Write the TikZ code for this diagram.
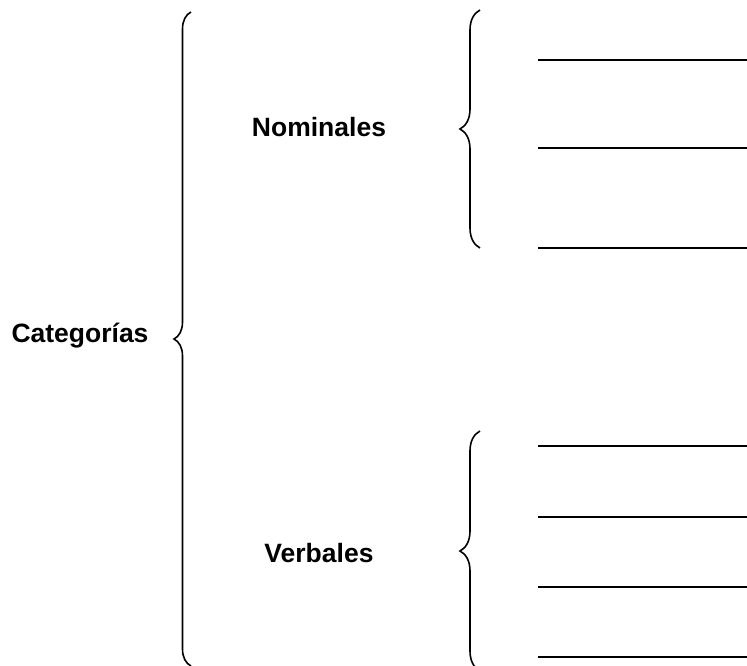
\documentclass[tikz,border=0pt]{standalone}
\usepackage{fontspec}
\setmainfont{Liberation Sans}
\usepackage{tikz}
\usetikzlibrary{decorations.pathreplacing}
\tikzset{lbl/.style={font=\fontsize{26.5}{30}\selectfont\bfseries,inner sep=0pt,anchor=base}}
\tikzset{brc/.style={decorate,decoration={brace,amplitude=#1},line width=1.6pt}}
\tikzset{blank/.style={line width=2pt}}

\begin{document}
\begin{tikzpicture}[x=1pt,y=-1pt]
    \useasboundingbox (0,0) rectangle (747,666);

    \node[lbl] (cat) at (80,342) {Categorías};
    \node[lbl] (nom) at (319,137) {Nominales};
    \node[lbl] (ver) at (319,562) {Verbales};

    \coordinate (cattop) at (191,12);
    \coordinate (catbot) at (191,666);
    \coordinate (nomtop) at (480,10);
    \coordinate (nombot) at (480,248);
    \coordinate (vertop) at (480,431);
    \coordinate (verbot) at (480,671);

    \draw [brc=17pt] (catbot) to (cattop);
    \draw [brc=20pt] (nombot) to (nomtop);
    \draw [brc=20pt] (verbot) to (vertop);

    \foreach \y in {60,148,248}
        \draw [blank] (538,\y) -- (747,\y);
    \foreach \y in {446,517,587,657}
        \draw [blank] (538,\y) -- (747,\y);
\end{tikzpicture}
\end{document}
